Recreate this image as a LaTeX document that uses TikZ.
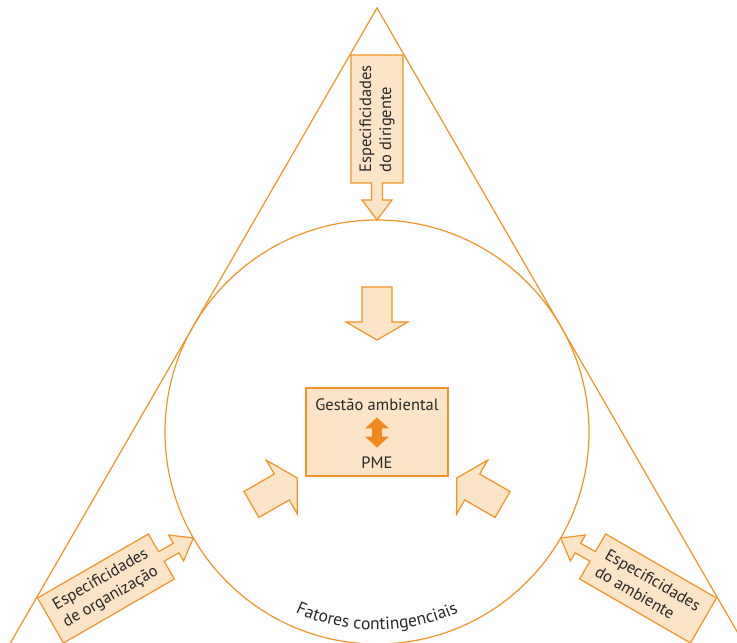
\documentclass[tikz,border=0pt]{standalone}
\usepackage{fontspec}
\setmainfont{PT Sans}
\usetikzlibrary{arrows.meta,decorations.text}
\definecolor{lineorange}{RGB}{242,148,36}
\definecolor{boxpeach}{RGB}{252,228,199}
\definecolor{arroworange}{RGB}{240,138,30}
\definecolor{textgrey}{RGB}{40,40,40}
\tikzset{
  orangeline/.style={draw=lineorange, line width=1.2pt},
  peach/.style={orangeline, fill=boxpeach, line join=miter},
  boxtext/.style={text=textgrey, font=\fontsize{16.5}{20}\selectfont, align=left, inner sep=0pt},
  dblarrow/.style={draw=arroworange, line width=10pt, {Triangle[width=23pt,length=11pt]}-{Triangle[width=23pt,length=11pt]}, shorten <=6pt, shorten >=8.5pt},
  pics/feedarrow/.style={code={
    \draw[peach] (377,26) -- (249,26) -- (249,5.5) -- (232,5.5) -- (232,15) -- (212,0) -- (232,-15) -- (232,-5.5) -- (249,-5.5) -- (249,-26) -- (377,-26) -- cycle;
  }},
  pics/pusharrow/.style={code={
    \draw[peach] (145,15) -- (110,15) -- (110,31) -- (92,0) -- (110,-31) -- (110,-15) -- (145,-15) -- cycle;
  }}
}
\begin{document}
\begin{tikzpicture}[x=1pt, y=1pt]
\useasboundingbox (-377,-211) rectangle (360,432);
\clip (-377,-211) rectangle (360,432);
\draw[orangeline] (0,424) -- (-367.2,-212) -- (367.2,-212) -- cycle;
\draw[orangeline] (0,0) circle[radius=212pt];
\pic[rotate=90] {feedarrow};
\pic[rotate=210] {feedarrow};
\pic[rotate=330] {feedarrow};
\node[boxtext, rotate=90] (dirigente) at (90:313) {Especificidades\\do dirigente};
\node[boxtext, rotate=30] (organizacao) at (210:313) {Especificidades\\de organização};
\node[boxtext, rotate=-30] (ambiente) at (330:313) {Especificidades\\do ambiente};
\pic[rotate=90] {pusharrow};
\pic[rotate=210] {pusharrow};
\pic[rotate=330] {pusharrow};
\node[peach, line width=1.8pt, minimum width=142pt, minimum height=88pt] (pmebox) at (0,0) {};
\node[boxtext, anchor=base] (gestao) at (0,21) {Gestão ambiental};
\node[boxtext, anchor=base] (pme) at (0,-36) {PME};
\draw[dblarrow] (gestao.south) -- (pme.north);
\path[postaction={decorate}, decoration={text along path, text align=center,
  text={|\fontsize{17.5}{20}\selectfont\color{textgrey}|Fatores contingenciais}}]
  (236:198) arc[start angle=236, end angle=304, radius=198pt];
\end{tikzpicture}
\end{document}
